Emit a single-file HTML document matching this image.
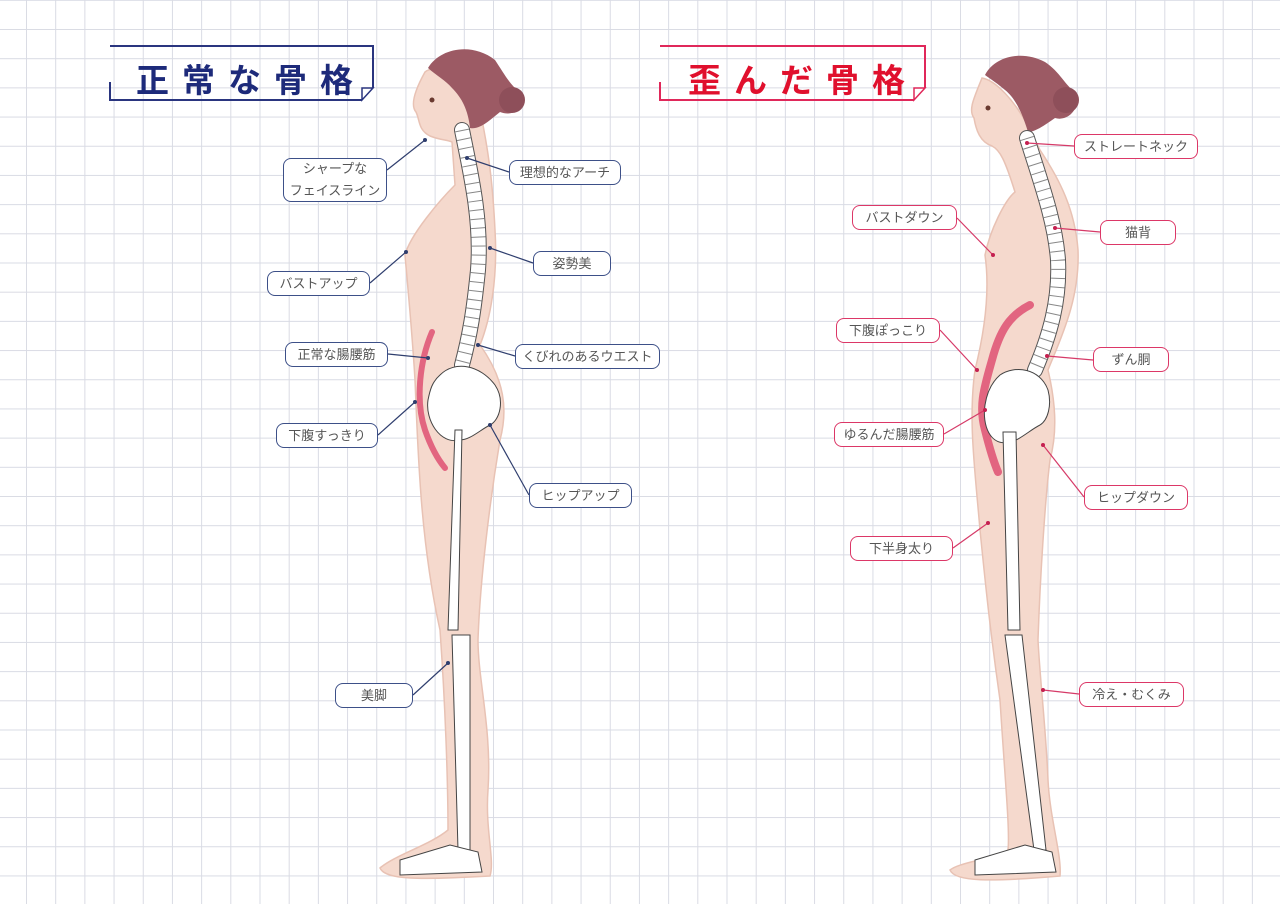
<!DOCTYPE html>
<html><head><meta charset="utf-8"><style>
body{margin:0;width:1280px;height:904px;overflow:hidden;background:#fff;
background-image:linear-gradient(to right,#d9dbe4 1px,transparent 1px),linear-gradient(to bottom,#d9dbe4 1px,transparent 1px);
background-size:29.2px 29.2px;background-position:26px 29px;font-family:"Liberation Sans","Noto Sans CJK JP",sans-serif;}
.lb{position:absolute;background:#fff;border:1.5px solid #3d5088;border-radius:8px;color:#555;font-size:13px;display:flex;align-items:center;justify-content:center;text-align:center;line-height:24px;box-sizing:border-box}
.r{border-color:#dc3767}
.t{position:absolute;font-size:33px;font-weight:bold;letter-spacing:13px;white-space:nowrap}
</style></head><body>
<svg width="1280" height="904" style="position:absolute;left:0;top:0">
<g fill="none" stroke="#2a357f" stroke-width="2"><path d="M110 46H373V88M110 82V100H362"/></g>
<path d="M362 100L373 88H362Z" fill="#fff" stroke="#2a357f" stroke-width="1.5"/>
<g fill="none" stroke="#e0285a" stroke-width="2"><path d="M660 46H925V88M660 82V100H914"/></g>
<path d="M914 100L925 88H914Z" fill="#fff" stroke="#e0285a" stroke-width="1.5"/>

<!-- LEFT FIGURE -->
<g>
<path d="M425 72C415 90 410 105 416 112C420 120 418 130 430 136C440 140 448 140 452 142L455 185C440 200 410 235 405 255C408 290 412 330 415 380C418 450 420 540 440 630C445 700 448 780 448 830C430 845 395 855 380 868C385 880 420 880 490 876C495 860 485 830 488 790C492 730 478 680 478 640C480 580 490 500 500 440C508 410 505 380 480 345C490 320 498 280 495 230C493 190 490 160 482 120C470 90 440 60 425 72Z" fill="#f5d9cd" stroke="#e8c2b4" stroke-width="1.5"/>
<path d="M428 68C440 48 472 42 495 60C505 75 510 85 520 92C528 105 515 118 500 112C490 120 480 130 470 128C468 110 462 98 452 88C445 80 437 76 428 68Z" fill="#9c5a64"/>
<circle cx="512" cy="100" r="13" fill="#8e4f5a"/>
<circle cx="432" cy="100" r="2.5" fill="#6a3a30"/>
<path d="M432 332C420 360 415 400 425 430C432 450 440 462 445 468" fill="none" stroke="#e26580" stroke-width="6" stroke-linecap="round"/>
<path d="M462 130C470 170 482 220 478 270C474 310 470 335 462 365" fill="none" stroke="#555" stroke-width="16" stroke-linecap="round"/>
<path d="M462 130C470 170 482 220 478 270C474 310 470 335 462 365" fill="none" stroke="#fff" stroke-width="14" stroke-linecap="round"/>
<path d="M462 130C470 170 482 220 478 270C474 310 470 335 462 365" fill="none" stroke="#888" stroke-width="14" stroke-dasharray="1 8"/>
<path d="M440 375C455 360 480 365 495 385C505 400 500 420 490 425C480 430 470 440 460 440C440 445 425 420 428 400C430 390 432 382 440 375Z" fill="#fff" stroke="#444" stroke-width="1"/>
<path d="M455 430L462 430L458 630L448 630Z" fill="#fff" stroke="#444" stroke-width="1"/>
<path d="M452 635L470 635L470 850L458 850Z" fill="#fff" stroke="#444" stroke-width="1"/>
<path d="M400 860L450 845L478 852L482 872L400 875Z" fill="#fff" stroke="#444" stroke-width="1"/>
</g>

<!-- RIGHT FIGURE -->
<g>
<path d="M982 78C974 98 968 110 974 118C976 130 980 142 992 146C1000 150 1005 160 1015 192C1005 200 990 230 985 255C990 290 985 330 975 370C968 420 975 470 980 530C985 580 990 630 1000 700C1005 780 1010 830 1008 850C990 860 960 862 950 870C955 882 990 882 1060 876C1062 855 1050 820 1048 780C1046 730 1040 680 1038 640C1040 580 1045 500 1050 460C1058 430 1055 400 1048 370C1060 340 1080 300 1078 250C1075 210 1060 180 1040 150L1030 130C1015 100 995 80 982 78Z" fill="#f5d9cd" stroke="#e8c2b4" stroke-width="1.5"/>
<path d="M985 75C995 56 1022 50 1045 62C1060 72 1065 85 1075 92C1082 108 1068 122 1055 118C1045 125 1035 132 1028 132C1022 112 1015 98 1005 90C998 84 992 80 985 75Z" fill="#9c5a64"/>
<circle cx="1066" cy="100" r="13" fill="#8e4f5a"/>
<circle cx="988" cy="108" r="2.5" fill="#6a3a30"/>
<path d="M1030 305C1010 315 1000 330 992 360C985 385 978 405 985 430C990 450 995 465 998 472" fill="none" stroke="#e26580" stroke-width="8" stroke-linecap="round"/>
<path d="M1027 138C1040 180 1055 220 1058 260C1060 300 1050 335 1035 370" fill="none" stroke="#555" stroke-width="16" stroke-linecap="round"/>
<path d="M1027 138C1040 180 1055 220 1058 260C1060 300 1050 335 1035 370" fill="none" stroke="#fff" stroke-width="14" stroke-linecap="round"/>
<path d="M1027 138C1040 180 1055 220 1058 260C1060 300 1050 335 1035 370" fill="none" stroke="#888" stroke-width="14" stroke-dasharray="1 8"/>
<path d="M1000 375C1015 365 1040 368 1048 390C1052 405 1048 420 1040 425C1030 430 1020 440 1010 442C990 447 982 425 985 405C987 392 992 382 1000 375Z" fill="#fff" stroke="#444" stroke-width="1"/>
<path d="M1003 432L1016 432L1020 630L1008 630Z" fill="#fff" stroke="#444" stroke-width="1"/>
<path d="M1005 635L1022 635L1046 850L1034 850Z" fill="#fff" stroke="#444" stroke-width="1"/>
<path d="M975 860L1025 845L1052 852L1056 872L975 875Z" fill="#fff" stroke="#444" stroke-width="1"/>
</g>

<g stroke="#2f3e6e" stroke-width="1.2">
<line x1="387" y1="170" x2="425" y2="140"/><line x1="509" y1="172" x2="467" y2="158"/>
<line x1="370" y1="283" x2="406" y2="252"/><line x1="533" y1="263" x2="490" y2="248"/>
<line x1="388" y1="354" x2="428" y2="358"/><line x1="515" y1="356" x2="478" y2="345"/>
<line x1="378" y1="435" x2="415" y2="402"/><line x1="529" y1="495" x2="490" y2="425"/>
<line x1="413" y1="695" x2="448" y2="663"/>
</g>
<g fill="#2f3e6e"><circle cx="425" cy="140" r="2"/><circle cx="467" cy="158" r="2"/><circle cx="406" cy="252" r="2"/><circle cx="490" cy="248" r="2"/><circle cx="428" cy="358" r="2"/><circle cx="478" cy="345" r="2"/><circle cx="415" cy="402" r="2"/><circle cx="490" cy="425" r="2"/><circle cx="448" cy="663" r="2"/></g>
<g stroke="#d63a68" stroke-width="1.2">
<line x1="1074" y1="146" x2="1027" y2="143"/><line x1="957" y1="218" x2="993" y2="255"/>
<line x1="1100" y1="232" x2="1055" y2="228"/><line x1="940" y1="330" x2="977" y2="370"/>
<line x1="1093" y1="360" x2="1047" y2="356"/><line x1="944" y1="434" x2="985" y2="410"/>
<line x1="1084" y1="497" x2="1043" y2="445"/><line x1="953" y1="548" x2="988" y2="523"/>
<line x1="1079" y1="694" x2="1043" y2="690"/>
</g>
<g fill="#c42050"><circle cx="1027" cy="143" r="2"/><circle cx="993" cy="255" r="2"/><circle cx="1055" cy="228" r="2"/><circle cx="977" cy="370" r="2"/><circle cx="1047" cy="356" r="2"/><circle cx="985" cy="410" r="2"/><circle cx="1043" cy="445" r="2"/><circle cx="988" cy="523" r="2"/><circle cx="1043" cy="690" r="2"/></g>
</svg>

<div class="t" style="left:136px;top:54px;color:#1d2a7a">正常な骨格</div>
<div class="t" style="left:688px;top:54px;color:#e0102d">歪んだ骨格</div>

<div class="lb" style="left:283px;top:158px;width:104px;height:44px;line-height:22px">シャープな<br>フェイスライン</div>
<div class="lb" style="left:509px;top:160px;width:112px;height:25px">理想的なアーチ</div>
<div class="lb" style="left:267px;top:271px;width:103px;height:25px">バストアップ</div>
<div class="lb" style="left:533px;top:251px;width:78px;height:25px">姿勢美</div>
<div class="lb" style="left:285px;top:342px;width:103px;height:25px">正常な腸腰筋</div>
<div class="lb" style="left:515px;top:344px;width:145px;height:25px">くびれのあるウエスト</div>
<div class="lb" style="left:276px;top:423px;width:102px;height:25px">下腹すっきり</div>
<div class="lb" style="left:529px;top:483px;width:103px;height:25px">ヒップアップ</div>
<div class="lb" style="left:335px;top:683px;width:78px;height:25px">美脚</div>

<div class="lb r" style="left:1074px;top:134px;width:124px;height:25px">ストレートネック</div>
<div class="lb r" style="left:852px;top:205px;width:105px;height:25px">バストダウン</div>
<div class="lb r" style="left:1100px;top:220px;width:76px;height:25px">猫背</div>
<div class="lb r" style="left:836px;top:318px;width:104px;height:25px">下腹ぽっこり</div>
<div class="lb r" style="left:1093px;top:347px;width:76px;height:25px">ずん胴</div>
<div class="lb r" style="left:834px;top:422px;width:110px;height:25px">ゆるんだ腸腰筋</div>
<div class="lb r" style="left:1084px;top:485px;width:104px;height:25px">ヒップダウン</div>
<div class="lb r" style="left:850px;top:536px;width:103px;height:25px">下半身太り</div>
<div class="lb r" style="left:1079px;top:682px;width:105px;height:25px">冷え・むくみ</div>
</body></html>
